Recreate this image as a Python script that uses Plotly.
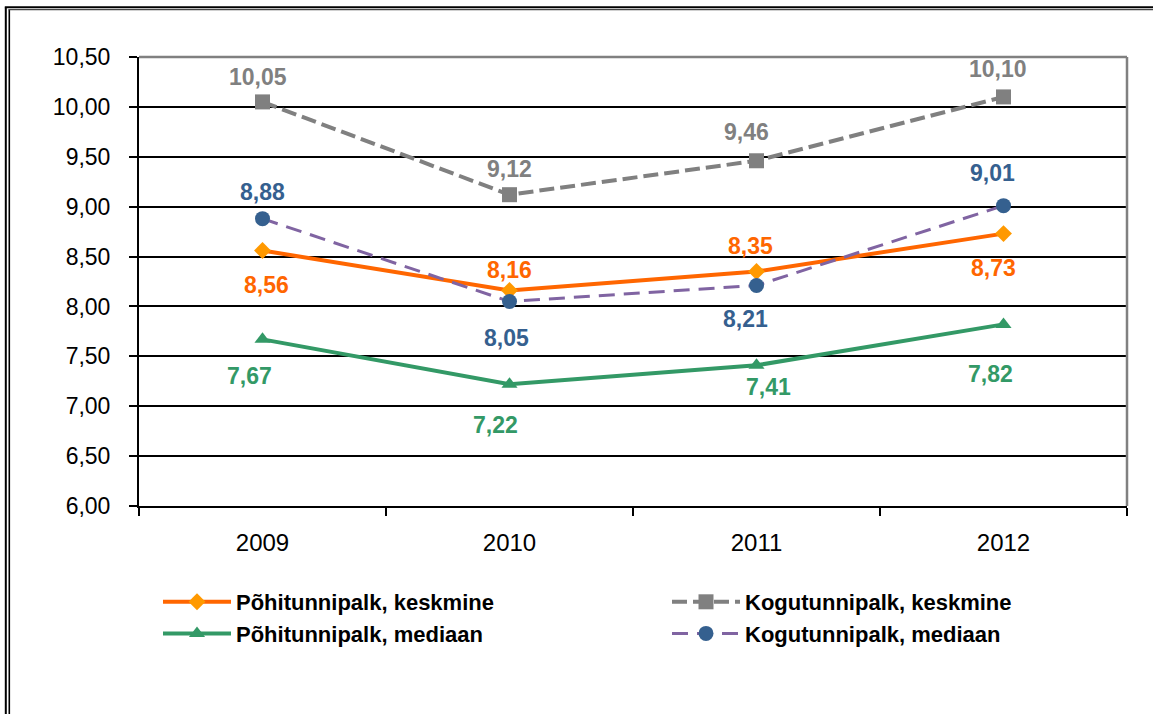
import plotly.graph_objects as go

years = ["2009", "2010", "2011", "2012"]
pohi_keskmine = [8.56, 8.16, 8.35, 8.73]
kogu_keskmine = [10.05, 9.12, 9.46, 10.10]
pohi_mediaan = [7.67, 7.22, 7.41, 7.82]
kogu_mediaan = [8.88, 8.05, 8.21, 9.01]
y_ticks = [6.0, 6.5, 7.0, 7.5, 8.0, 8.5, 9.0, 9.5, 10.0, 10.5]

names = ["Põhitunnipalk, keskmine", "Kogutunnipalk, keskmine",
         "Põhitunnipalk, mediaan", "Kogutunnipalk, mediaan"]

# label offsets (px) per series point: (xshift, yshift)
lab_pk = [(4, -34), (0, 20), (-6, 26), (-10, -34)]
lab_kk = [(-5, 25), (0, 26), (-10, 29), (-6, 28)]
lab_pm = [(-13, -37), (-14, -41), (12, -22), (-13, -50)]
lab_km = [(0, 27), (-3, -37), (-11, -34), (-11, 33)]

W, H = 1153, 714
L, R, T, B = 139, 1127, 57, 506
FONT = "Liberation Sans, Arial, sans-serif"

def px(x):
    return (x - L) / (R - L)

def py(y):
    return (B - y) / (B - T)

fig = go.Figure()
series = [
    (pohi_keskmine, names[0], dict(color="#FF6600", width=4, dash="solid"),
     dict(symbol="diamond", size=13, color="#FF9900"), "#FF6600", lab_pk, "legend"),
    (kogu_keskmine, names[1], dict(color="#808080", width=4, dash="15px,6px"),
     dict(symbol="square", size=15, color="#808080"), "#808080", lab_kk, "legend2"),
    (pohi_mediaan, names[2], dict(color="#339966", width=4, dash="solid"),
     dict(symbol="triangle-up", size=14, color="#339966"), "#339966", lab_pm, "legend"),
    (kogu_mediaan, names[3], dict(color="#8064A2", width=3, dash="16px,9px"),
     dict(symbol="circle", size=15, color="#35608F"), "#35608F", lab_km, "legend2"),
]

annotations = []
for vals, name, line, marker, tcol, labs, leg in series:
    fig.add_trace(go.Scatter(x=years, y=vals, name=name, mode="lines+markers",
                             line=line, marker=marker, legend=leg))
    for i, (v, (dx, dy)) in enumerate(zip(vals, labs)):
        annotations.append(dict(x=i, y=v, xref="x", yref="y",
                                text=f"{v:.2f}".replace(".", ","),
                                showarrow=False, xshift=dx, yshift=dy,
                                font=dict(family=FONT, size=23, color=tcol,
                                          weight="bold")))

shapes = [
    # grey top and right plot border
    dict(type="line", xref="paper", yref="paper", x0=0, x1=1, y0=1, y1=1,
         line=dict(color="#808080", width=2.5), layer="above"),
    dict(type="line", xref="paper", yref="paper", x0=1, x1=1, y0=0, y1=1,
         line=dict(color="#808080", width=2.5), layer="above"),
    # outer double frame
    dict(type="line", xref="paper", yref="paper", x0=px(5.8), x1=px(5.8),
         y0=py(7.5), y1=py(H + 10), line=dict(color="black", width=2)),
    dict(type="line", xref="paper", yref="paper", x0=px(9.3), x1=px(9.3),
         y0=py(9.5), y1=py(H + 10), line=dict(color="black", width=1.6)),
    dict(type="line", xref="paper", yref="paper", x0=px(4.8), x1=px(W + 10),
         y0=py(7.3), y1=py(7.3), line=dict(color="black", width=2)),
    dict(type="line", xref="paper", yref="paper", x0=px(8.5), x1=px(W + 10),
         y0=py(9.6), y1=py(9.6), line=dict(color="#444444", width=1.2)),
]

legfont = dict(family=FONT, size=22, color="black", weight="bold")
fig.update_layout(
    width=W, height=H,
    margin=dict(l=L, r=W - R, t=T, b=H - B, autoexpand=False),
    paper_bgcolor="white", plot_bgcolor="white",
    font=dict(family=FONT, color="black"),
    showlegend=True,
    legend=dict(orientation="v", x=px(158), y=py(581), xanchor="left",
                yanchor="top", font=legfont, tracegroupgap=0, itemwidth=68,
                bgcolor="rgba(0,0,0,0)"),
    legend2=dict(orientation="v", x=px(667), y=py(581), xanchor="left",
                 yanchor="top", font=legfont, tracegroupgap=0, itemwidth=68,
                 bgcolor="rgba(0,0,0,0)"),
    annotations=annotations,
    shapes=shapes,
)

fig.update_xaxes(type="category", categoryorder="array", categoryarray=years,
                 range=[-0.5, 3.5], showline=True, linecolor="black", linewidth=2,
                 ticks="outside", tickson="boundaries", ticklen=8, tickwidth=2,
                 tickcolor="black", showgrid=False, ticklabelstandoff=14,
                 tickfont=dict(family=FONT, size=24, color="black"))
fig.update_yaxes(range=[6.0, 10.5], tickvals=y_ticks,
                 ticktext=[f"{v:.2f}".replace(".", ",") for v in y_ticks],
                 showline=True, linecolor="black", linewidth=2,
                 ticks="outside", ticklen=8, tickwidth=2, tickcolor="black",
                 showgrid=True, gridcolor="black", gridwidth=1.5,
                 zeroline=False, ticklabelstandoff=14,
                 tickfont=dict(family=FONT, size=23, color="black"))

fig.write_html("out.html", config={"displayModeBar": False},
               post_script="document.body.style.margin='0';")
